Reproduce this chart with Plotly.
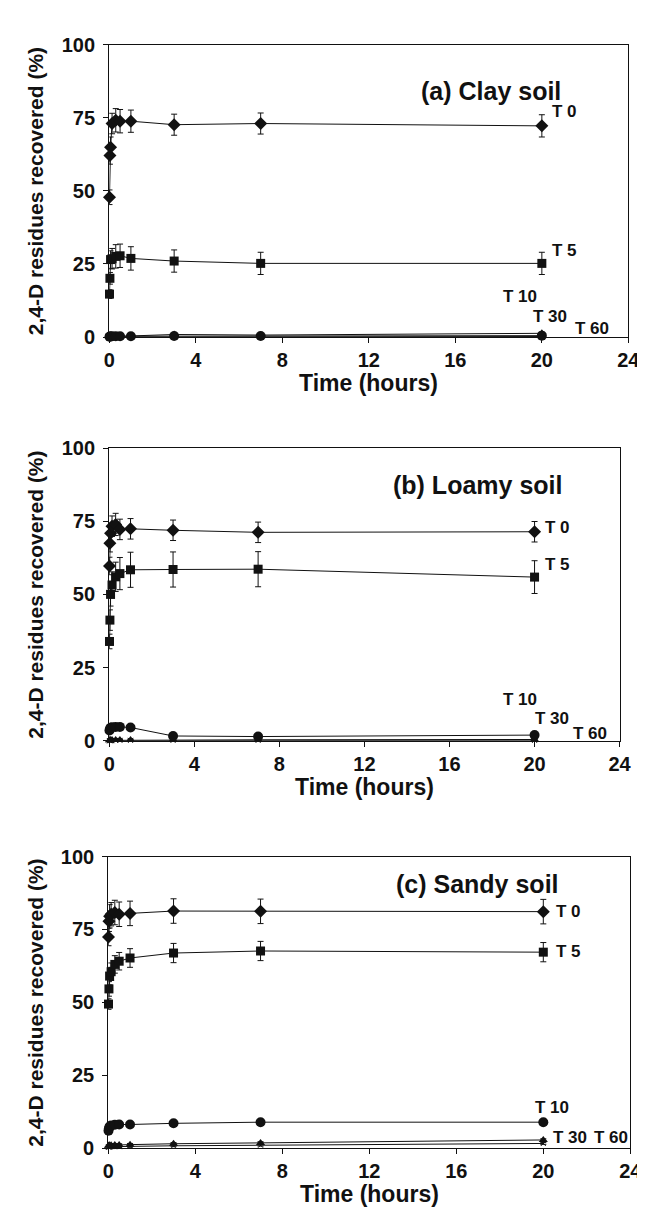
import plotly.graph_objects as go

W, H = 645, 1212

# ---------------- data ----------------
time_h = [0.01, 0.03, 0.06, 0.13, 0.3, 0.5, 1, 3, 7, 20]

clay_t0 = [47.8, 62.1, 64.9, 73.0, 74.1, 73.8, 73.8, 72.6, 73.0, 72.2]
clay_t0_err = [2.5, 3.0, 3.5, 3.5, 4.0, 4.0, 3.8, 3.6, 3.6, 3.8]
clay_t5 = [14.7, 20.1, 26.5, 26.8, 27.6, 27.8, 26.9, 26.0, 25.2, 25.2]
clay_t5_err = [1.5, 2.0, 3.0, 3.5, 4.0, 4.0, 4.0, 3.8, 3.8, 3.8]
clay_t10 = [0.1, 0.2, 0.2, 0.3, 0.3, 0.3, 0.3, 0.4, 0.4, 0.5]
clay_t30 = [0.1, 0.1, 0.2, 0.2, 0.2, 0.3, 0.4, 0.9, 0.7, 1.3]
clay_t60 = [0.0, 0.0, 0.0, 0.1, 0.1, 0.1, 0.1, 0.1, 0.1, 0.2]

loamy_t0 = [59.7, 67.5, 70.9, 73.3, 73.9, 72.2, 72.4, 71.9, 71.2, 71.4]
loamy_t0_err = [3.0, 3.0, 3.5, 3.5, 3.8, 3.5, 3.5, 3.5, 3.5, 3.5]
loamy_t5 = [33.9, 41.2, 50.0, 53.2, 56.0, 57.1, 58.4, 58.5, 58.6, 55.9]
loamy_t5_err = [2.5, 3.5, 4.0, 4.5, 5.0, 5.5, 6.0, 6.0, 6.0, 5.6]
loamy_t10 = [3.5, 4.0, 4.4, 4.6, 4.7, 4.7, 4.5, 1.6, 1.4, 1.9]
loamy_t30 = [0.1, 0.1, 0.2, 0.2, 0.2, 0.2, 0.2, 0.3, 0.3, 0.4]
loamy_t60 = [0.0, 0.0, 0.0, 0.0, 0.1, 0.1, 0.1, 0.1, 0.1, 0.1]

sandy_t0 = [72.4, 77.8, 79.5, 80.2, 80.8, 80.2, 80.5, 81.3, 81.2, 81.1]
sandy_t0_err = [3.0, 3.5, 4.0, 4.0, 4.2, 4.2, 4.2, 4.2, 4.2, 4.2]
sandy_t5 = [49.4, 54.6, 59.0, 60.5, 63.0, 64.1, 65.2, 66.9, 67.6, 67.2]
sandy_t5_err = [1.8, 2.5, 3.0, 3.0, 3.0, 3.0, 3.2, 3.3, 3.3, 3.3]
sandy_t10 = [6.0, 6.8, 7.4, 7.8, 8.0, 8.1, 8.1, 8.5, 8.9, 8.9]
sandy_t30 = [0.8, 0.9, 1.0, 1.0, 1.1, 1.1, 1.2, 1.5, 1.8, 2.8]
sandy_t60 = [0.3, 0.4, 0.4, 0.5, 0.5, 0.5, 0.6, 0.8, 1.0, 1.6]

panel_titles = ["(a) Clay soil", "(b) Loamy soil", "(c) Sandy soil"]
x_ticks = [0, 4, 8, 12, 16, 20, 24]
y_ticks = [0, 25, 50, 75, 100]

# ---------------- layout geometry (pixels) ----------------
panels = [
    dict(l=98, r=632, t=26, b=324),
    dict(l=98, r=623, t=437, b=735),
    dict(l=97, r=634, t=853, b=1150),
]

FONT = "Liberation Sans, Arial, sans-serif"
BLACK = "#111111"

series = [
    dict(t0=clay_t0, t0e=clay_t0_err, t5=clay_t5, t5e=clay_t5_err,
         t10=clay_t10, t30=clay_t30, t60=clay_t60),
    dict(t0=loamy_t0, t0e=loamy_t0_err, t5=loamy_t5, t5e=loamy_t5_err,
         t10=loamy_t10, t30=loamy_t30, t60=loamy_t60),
    dict(t0=sandy_t0, t0e=sandy_t0_err, t5=sandy_t5, t5e=sandy_t5_err,
         t10=sandy_t10, t30=sandy_t30, t60=sandy_t60),
]

# label positions (data units) and horizontal anchors for each panel
label_pos = [
    dict(T0=(20.4, 77.0, "left"), T5=(20.4, 29.5, "left"), T10=(19.0, 13.9, "center"),
         T30=(20.4, 7.1, "center"), T60=(22.3, 3.0, "center")),
    dict(T0=(20.4, 73.0, "left"), T5=(20.4, 60.2, "left"), T10=(19.3, 13.9, "center"),
         T30=(20.8, 7.6, "center"), T60=(22.6, 2.6, "center")),
    dict(T0=(20.5, 81.0, "left"), T5=(20.5, 67.5, "left"), T10=(20.4, 14.0, "center"),
         T30=(20.35, 3.5, "left"), T60=(23.1, 3.5, "center")),
]
title_pos = [(21.0, 84.0), (21.4, 87.5), (20.8, 90.5)]

fig = go.Figure()

def errbar(vals):
    return dict(type="data", array=vals, visible=True, color=BLACK, thickness=1, width=3)

for i, s in enumerate(series):
    xa = "x" if i == 0 else f"x{i+1}"
    ya = "y" if i == 0 else f"y{i+1}"
    common = dict(x=time_h, xaxis=xa, yaxis=ya, mode="lines+markers",
                  line=dict(color=BLACK, width=1), cliponaxis=False, showlegend=False)
    fig.add_trace(go.Scatter(y=s["t60"], marker=dict(symbol="x-thin", size=5,
                  line=dict(color=BLACK, width=1), color=BLACK),
                  error_y=errbar([0.3] * len(time_h)), **common))
    fig.add_trace(go.Scatter(y=s["t30"], marker=dict(symbol="triangle-up", size=8, color=BLACK),
                  error_y=errbar([0.4] * len(time_h)), **common))
    fig.add_trace(go.Scatter(y=s["t10"], marker=dict(symbol="circle", size=10, color=BLACK),
                  error_y=errbar([0.5] * len(time_h)), **common))
    fig.add_trace(go.Scatter(y=s["t5"], marker=dict(symbol="square", size=9, color=BLACK),
                  error_y=errbar(s["t5e"]), **common))
    fig.add_trace(go.Scatter(y=s["t0"], marker=dict(symbol="diamond", size=10, color=BLACK),
                  error_y=errbar(s["t0e"]), **common))

layout = dict(
    width=W, height=H, paper_bgcolor="white", plot_bgcolor="white",
    margin=dict(l=0, r=0, t=0, b=0),
    font=dict(family=FONT, color=BLACK),
)

annotations = []
for i, p in enumerate(panels):
    sfx = "" if i == 0 else str(i + 1)
    x0, x1 = p["l"] / W, p["r"] / W
    y0, y1 = 1 - p["b"] / H, 1 - p["t"] / H
    layout["xaxis" + sfx] = dict(
        domain=[x0, x1], anchor="y" + sfx, range=[0, 24],
        tickvals=x_ticks, ticktext=[f"<b>{v}</b>" for v in x_ticks],
        showline=True, linecolor=BLACK, linewidth=1.3, mirror=True,
        ticks="outside", ticklen=5, tickcolor=BLACK, tickwidth=1,
        showgrid=False, zeroline=False, ticklabelstandoff=0,
        tickfont=dict(size=20, family=FONT, color=BLACK),
    )
    layout["yaxis" + sfx] = dict(
        domain=[y0, y1], anchor="x" + sfx, range=[0, 100],
        tickvals=y_ticks, ticktext=[f"<b>{v}</b>" for v in y_ticks],
        showline=True, linecolor=BLACK, linewidth=1.3, mirror=True,
        ticks="outside", ticklen=5, tickcolor=BLACK, tickwidth=1,
        showgrid=False, zeroline=False, ticklabelstandoff=4,
        tickfont=dict(size=20, family=FONT, color=BLACK),
    )
    xref, yref = "x" + sfx, "y" + sfx
    tx, ty = title_pos[i]
    annotations.append(dict(x=tx, y=ty, xref=xref, yref=yref, text=f"<b>{panel_titles[i]}</b>",
                            showarrow=False, xanchor="right", yanchor="middle",
                            font=dict(size=25, family=FONT, color=BLACK)))
    for key, lab in [("T0", "T 0"), ("T5", "T 5"), ("T10", "T 10"), ("T30", "T 30"), ("T60", "T 60")]:
        lx, ly, anchor = label_pos[i][key]
        annotations.append(dict(x=lx, y=ly, xref=xref, yref=yref, text=f"<b>{lab}</b>",
                                showarrow=False, xanchor=anchor, yanchor="middle",
                                font=dict(size=17, family=FONT, color=BLACK)))
    # axis titles
    annotations.append(dict(x=(x0 + x1) / 2, y=1 - (p["b"] + 47) / H, xref="paper", yref="paper",
                            text="<b>Time (hours)</b>", showarrow=False,
                            xanchor="center", yanchor="middle",
                            font=dict(size=23, family=FONT, color=BLACK)))
    annotations.append(dict(x=22 / W, y=(y0 + y1) / 2, xref="paper", yref="paper",
                            text="<b>2,4-D residues recovered (%)</b>", showarrow=False,
                            textangle=-90, xanchor="center", yanchor="middle",
                            font=dict(size=21, family=FONT, color=BLACK)))

layout["annotations"] = annotations
fig.update_layout(**layout)
fig.write_html("out.html")
